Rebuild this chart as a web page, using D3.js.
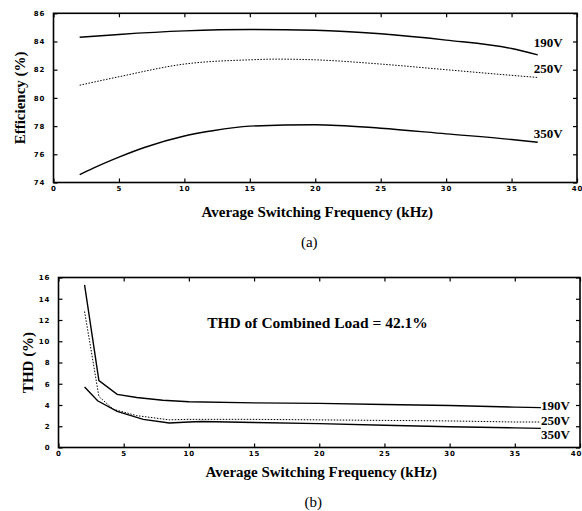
<!DOCTYPE html>
<html>
<head>
<meta charset="utf-8">
<script src="https://cdn.jsdelivr.net/npm/d3@7"></script>
<style>
  body { margin: 0; background: #fff; }
  svg { display: block; }
  .tick text { font-family: "DejaVu Sans", sans-serif; font-weight: bold; font-size: 7px; letter-spacing: 1px; fill: #000; }
  .title { font-family: "Liberation Serif", "DejaVu Serif", serif; font-weight: bold; font-size: 15px; fill: #000; }
  .lbl { font-family: "Liberation Serif", "DejaVu Serif", serif; font-weight: bold; font-size: 13px; fill: #000; }
  .cap { font-family: "Liberation Serif", "DejaVu Serif", serif; font-size: 15px; fill: #000; }
</style>
</head>
<body>
<script>
(function(d3) {
    'use strict';

    // (a) efficiency vs average switching frequency
    var effFreq190 = [2, 5, 10, 15, 20, 25, 30, 35, 37];
    var eff190 = [84.3, 84.5, 84.75, 84.85, 84.8, 84.55, 84.1, 83.5, 83.05];
    var effFreq250 = [2, 5, 10, 15, 17, 20, 25, 30, 35, 37];
    var eff250 = [80.9, 81.5, 82.4, 82.7, 82.75, 82.7, 82.4, 82.0, 81.6, 81.45];
    var effFreq350 = [2, 3, 5, 7, 10, 12, 15, 20, 25, 30, 35, 37];
    var eff350 = [74.55, 75.0, 75.8, 76.5, 77.3, 77.65, 78.0, 78.1, 77.85, 77.45, 77.05, 76.85];

    // (b) THD vs average switching frequency
    var thdFreq190 = [2, 3.1, 4.5, 6, 8, 10, 15, 20, 25, 30, 35, 37];
    var thd190 = [15.3, 6.3, 5.0, 4.7, 4.45, 4.3, 4.2, 4.15, 4.05, 3.95, 3.8, 3.75];
    var thdFreq250 = [2, 3.1, 4.2, 6, 8.5, 10, 15, 20, 25, 30, 35, 37];
    var thd250 = [12.8, 4.8, 3.6, 3.0, 2.6, 2.65, 2.65, 2.6, 2.55, 2.5, 2.4, 2.4];
    var thdFreq350 = [2, 3, 4.5, 6.5, 8.5, 10, 11, 15, 20, 25, 30, 35, 37];
    var thd350 = [5.7, 4.4, 3.4, 2.65, 2.3, 2.4, 2.45, 2.35, 2.25, 2.1, 1.95, 1.85, 1.8];

    var seriesNames = ['190V', '250V', '350V'];
    var xTicks = [0, 5, 10, 15, 20, 25, 30, 35, 40];
    var effTicks = [74, 76, 78, 80, 82, 84, 86];
    var thdTicks = [0, 2, 4, 6, 8, 10, 12, 14, 16];
    var xTitle = 'Average Switching Frequency (kHz)';
    var note = 'THD of Combined Load = 42.1%';

    function zip(xs, ys) {
        return xs.map(function(x, i) { return { x: x, y: ys[i] }; });
    }

    var svg = d3.select('body').append('svg')
        .attr('width', 582)
        .attr('height', 511);

    function panel(opt) {
        var x = d3.scaleLinear().domain([0, 40]).range([opt.left, opt.right]);
        var y = d3.scaleLinear().domain(opt.yDomain).range([opt.bottom, opt.top]);
        var g = svg.append('g');

        // inward ticks on all four sides
        var bx = g.append('g').attr('transform', 'translate(0,' + opt.bottom + ')')
            .call(d3.axisBottom(x).tickValues(xTicks).tickSize(-4).tickSizeOuter(0).tickPadding(4));
        // keep the last label inside the page
        if (x(40) > 578) {
            bx.selectAll('.tick:last-of-type text').attr('text-anchor', 'end').attr('x', 582 - x(40));
        }
        g.append('g').attr('transform', 'translate(0,' + opt.top + ')')
            .call(d3.axisTop(x).tickValues(xTicks).tickSize(-4).tickSizeOuter(0).tickFormat(''));
        g.append('g').attr('transform', 'translate(' + opt.left + ',0)')
            .call(d3.axisLeft(y).tickValues(opt.yTicks).tickSize(-4).tickSizeOuter(0).tickPadding(8));
        g.append('g').attr('transform', 'translate(' + opt.right + ',0)')
            .call(d3.axisRight(y).tickValues(opt.yTicks).tickSize(-4).tickSizeOuter(0).tickFormat(''));
        g.selectAll('.domain').remove();
        g.selectAll('.tick line').attr('stroke', '#000').attr('stroke-width', 1.2);

        g.append('rect')
            .attr('x', opt.left).attr('y', opt.top)
            .attr('width', opt.right - opt.left).attr('height', opt.bottom - opt.top)
            .attr('fill', 'none').attr('stroke', '#000').attr('stroke-width', 1.6);

        var line = d3.line()
            .x(function(d) { return x(d.x); })
            .y(function(d) { return y(d.y); })
            .curve(opt.curve);

        opt.series.forEach(function(s, i) {
            g.append('path')
                .datum(s)
                .attr('d', line)
                .attr('fill', 'none')
                .attr('stroke', '#000')
                .attr('stroke-width', i === 1 ? 1 : 1.4)
                .attr('stroke-dasharray', i === 1 ? '1.5,1.5' : null);

            var last = s[s.length - 1];
            g.append('text')
                .attr('class', 'lbl')
                .attr('x', x(last.x) + opt.labelDx)
                .attr('y', y(last.y) + opt.labelDy[i])
                .attr('dy', '0.35em')
                .text(seriesNames[i]);
        });

        g.append('text')
            .attr('class', 'title')
            .attr('x', (opt.left + opt.right) / 2 + 2)
            .attr('y', opt.bottom + opt.titleDy)
            .attr('text-anchor', 'middle')
            .text(xTitle);

        g.append('text')
            .attr('class', 'title')
            .attr('transform', 'translate(' + opt.yTitleX + ',' + (opt.top + opt.bottom) / 2 + ') rotate(-90)')
            .attr('text-anchor', 'middle')
            .attr('dy', '0.35em')
            .text(opt.yTitle);

        g.append('text')
            .attr('class', 'cap')
            .attr('x', (opt.left + opt.right) / 2 - 6)
            .attr('y', opt.bottom + opt.captionDy)
            .attr('text-anchor', 'middle')
            .text(opt.caption);

        return { x: x, y: y, g: g };
    }

    panel({
        left: 53.5, right: 577, top: 13.3, bottom: 182.5,
        yDomain: [74, 86], yTicks: effTicks,
        series: [zip(effFreq190, eff190), zip(effFreq250, eff250), zip(effFreq350, eff350)],
        curve: d3.curveMonotoneX,
        labelDx: -4, labelDy: [-12, -9, -9],
        yTitle: 'Efficiency (%)', yTitleX: 20,
        titleDy: 34, captionDy: 64,
        caption: '(a)'
    });

    var b = panel({
        left: 58.5, right: 580, top: 277.5, bottom: 447.5,
        yDomain: [0, 16], yTicks: thdTicks,
        series: [zip(thdFreq190, thd190), zip(thdFreq250, thd250), zip(thdFreq350, thd350)],
        curve: d3.curveLinear,
        labelDx: 0, labelDy: [-2, -2, 6],
        yTitle: 'THD (%)', yTitleX: 28,
        titleDy: 29, captionDy: 59,
        caption: '(b)'
    });

    b.g.append('text')
        .attr('class', 'title')
        .style('font-size', '15.5px')
        .attr('x', b.x(11.4))
        .attr('y', b.y(11.8))
        .attr('dy', '0.35em')
        .text(note);

})(window.d3);
</script>
</body>
</html>
